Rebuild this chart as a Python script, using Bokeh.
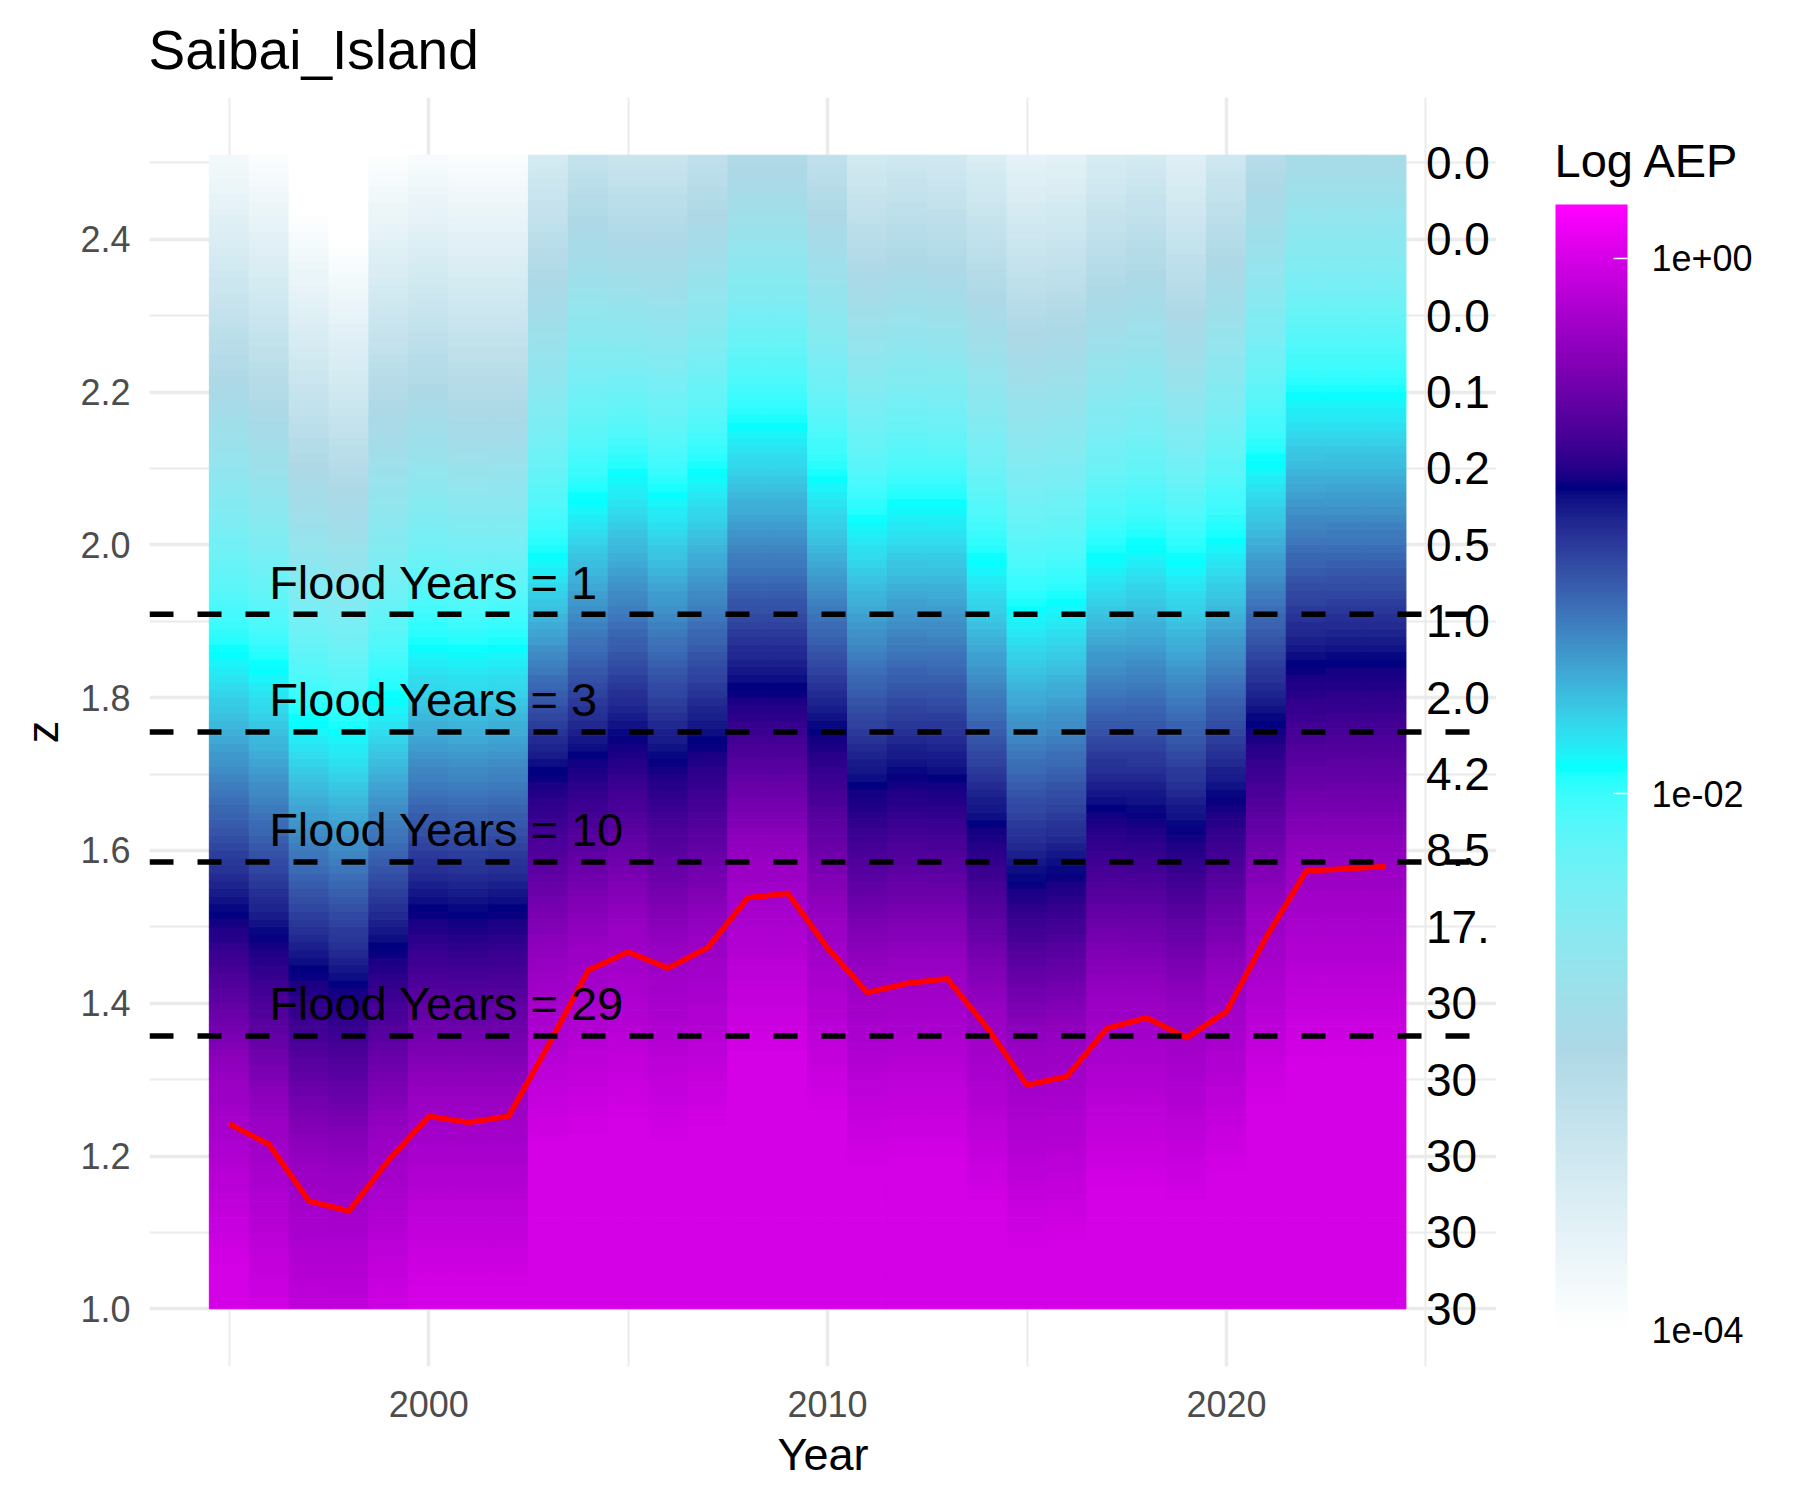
import numpy as np
from bokeh.plotting import figure
from bokeh.layouts import row
from bokeh.models import (ColumnDataSource, Range1d, FixedTicker, NumeralTickFormatter,
                          LinearColorMapper, ColorBar)
from bokeh.transform import transform
from bokeh.core.properties import value
from bokeh.embed import file_html
from bokeh.resources import INLINE

# ---------------- data ----------------
years = list(range(1995, 2025))
annual_max = [1.242, 1.215, 1.141, 1.128, 1.195, 1.252, 1.244, 1.252, 1.345, 1.443,
              1.467, 1.446, 1.473, 1.538, 1.544, 1.472, 1.414, 1.426, 1.432, 1.368,
              1.293, 1.304, 1.367, 1.381, 1.355, 1.389, 1.487, 1.573, 1.576, 1.579]

# heights (z) at which log10(AEP) reaches each contour level, per year
aep_levels = [0.0, -0.3, -0.85, -1.9, -2.95, -4.0]
z_at_0 = [1.05, 0.98, 0.90, 0.90, 0.97, 1.02, 1.02, 1.02, 1.21, 1.22,
          1.24, 1.21, 1.23, 1.33, 1.33, 1.25, 1.18, 1.19, 1.19, 1.13,
          1.07, 1.08, 1.15, 1.15, 1.13, 1.17, 1.26, 1.32, 1.32, 1.32]
z_at_m03 = [1.31, 1.26, 1.20, 1.19, 1.24, 1.29, 1.29, 1.29, 1.46, 1.49,
            1.51, 1.48, 1.50, 1.60, 1.60, 1.52, 1.45, 1.46, 1.46, 1.40,
            1.35, 1.36, 1.42, 1.42, 1.40, 1.44, 1.53, 1.59, 1.59, 1.59]
z_at_m085 = [1.515, 1.486, 1.441, 1.422, 1.471, 1.520, 1.515, 1.520, 1.702, 1.722,
             1.746, 1.717, 1.741, 1.811, 1.811, 1.755, 1.682, 1.697, 1.692, 1.633,
             1.559, 1.569, 1.653, 1.648, 1.628, 1.668, 1.765, 1.840, 1.845, 1.845]
z_at_m19 = [1.860, 1.840, 1.770, 1.756, 1.800, 1.869, 1.864, 1.869, 1.985, 2.060,
            2.092, 2.067, 2.096, 2.159, 2.159, 2.087, 2.034, 2.053, 2.053, 1.980,
            1.917, 1.927, 1.985, 2.000, 1.980, 2.009, 2.110, 2.198, 2.198, 2.198]
z_at_m295 = [2.217, 2.178, 2.100, 2.070, 2.178, 2.203, 2.178, 2.178, 2.348, 2.420,
             2.396, 2.396, 2.430, 2.490, 2.490, 2.430, 2.357, 2.372, 2.360, 2.324,
             2.275, 2.285, 2.333, 2.353, 2.300, 2.372, 2.469, 2.530, 2.530, 2.530]
z_at_m4 = [2.56, 2.53, 2.44, 2.40, 2.52, 2.54, 2.53, 2.53, 2.69, 2.76,
           2.74, 2.74, 2.78, 2.84, 2.84, 2.78, 2.70, 2.72, 2.71, 2.67,
           2.62, 2.63, 2.68, 2.70, 2.65, 2.72, 2.82, 2.88, 2.88, 2.88]

z_cells = [round(1.0 + 0.01 * k, 2) for k in range(151)]   # cell bottoms, 0.01 high

flood_z = [1.909, 1.755, 1.585, 1.357]
flood_text = ["Flood Years = 1", "Flood Years = 3", "Flood Years = 10", "Flood Years = 29"]

right_z = [2.5, 2.4, 2.3, 2.2, 2.1, 2.0, 1.9, 1.8, 1.7, 1.6, 1.5, 1.4, 1.3, 1.2, 1.1, 1.0]
right_text = ["0.0", "0.0", "0.0", "0.1", "0.2", "0.5", "1.0", "2.0", "4.2", "8.5",
              "17.", "30", "30", "30", "30", "30"]

x_major = [2000, 2010, 2020]
x_minor = [1995, 2005, 2015, 2025]
y_major = [1.0, 1.2, 1.4, 1.6, 1.8, 2.0, 2.2, 2.4]
y_minor = [1.1, 1.3, 1.5, 1.7, 1.9, 2.1, 2.3, 2.5]

legend_title = "Log AEP"
legend_ticks = [-4, -2, 0]
legend_labels = ["1e-04", "1e-02", "1e+00"]
aep_low, aep_high = -4.0, 0.2

# ---------------- palette: white-lightblue-cyan-navy-magenta (Lab ramp) ----------------
anchor_hex = ["#FFFFFF", "#ADD8E6", "#00FFFF", "#000080", "#FF00FF"]
M = np.array([[0.4124, 0.3576, 0.1805], [0.2126, 0.7152, 0.0722], [0.0193, 0.1192, 0.9505]])
Minv = np.linalg.inv(M)
WP = np.array([0.95047, 1.0, 1.08883])


def _lin(c):
    c = np.asarray(c, float) / 255.0
    return np.where(c <= 0.04045, c / 12.92, ((c + 0.055) / 1.055) ** 2.4)


def _delin(c):
    c = np.clip(c, 0, 1)
    return np.where(c <= 0.0031308, 12.92 * c, 1.055 * c ** (1 / 2.4) - 0.055)


def hex2lab(h):
    rgb = [int(h[i:i + 2], 16) for i in (1, 3, 5)]
    xyz = (M @ _lin(rgb)) / WP
    f = np.where(xyz > 0.008856, np.cbrt(xyz), 7.787 * xyz + 16 / 116)
    return np.array([116 * f[1] - 16, 500 * (f[0] - f[1]), 200 * (f[1] - f[2])])


def lab2hex(lab):
    L, a, b = lab
    fy = (L + 16) / 116
    f = np.array([fy + a / 500, fy, fy - b / 200])
    xyz = np.where(f ** 3 > 0.008856, f ** 3, (f - 16 / 116) / 7.787) * WP
    rgb = _delin(Minv @ xyz)
    return "#%02x%02x%02x" % tuple(int(round(v * 255)) for v in rgb)


labs = [hex2lab(h) for h in anchor_hex]
palette = []
for k in range(256):
    s = k / 255 * (len(labs) - 1)
    i = min(int(s), len(labs) - 2)
    t = s - i
    palette.append(lab2hex(labs[i] * (1 - t) + labs[i + 1] * t))

mapper = LinearColorMapper(palette=palette, low=aep_low, high=aep_high)

# ---------------- heat-map cells ----------------
zc = np.array(z_cells)
L, R, B, T, V = [], [], [], [], []
for i, yr in enumerate(years):
    xp = [z_at_0[i], z_at_m03[i], z_at_m085[i], z_at_m19[i], z_at_m295[i], z_at_m4[i]]
    v = np.interp(zc + 0.005, xp, aep_levels)
    L += [yr - 0.5] * len(zc)
    R += [yr + 0.5] * len(zc)
    B += list(zc)
    T += list(zc + 0.01)
    V += list(v)
cells = ColumnDataSource(dict(left=L, right=R, bottom=B, top=T, v=V))

FONT = "Liberation Sans"
X0, X1 = 1993.0, 2026.77
PANEL_RIGHT = 2026.52          # right edge of the ggplot panel (end of the dashed lines)
Y0, Y1 = 0.9245, 2.5855
MAIN_W, LEG_W, H = 1496, 304, 1500
TOP, BOTTOM = 97, 134

p = figure(width=MAIN_W, height=H, output_backend="svg", toolbar_location=None,
           x_range=Range1d(X0, X1), y_range=Range1d(Y0, Y1),
           min_border_left=149, min_border_right=0, min_border_top=TOP, min_border_bottom=BOTTOM,
           background_fill_color="white", border_fill_color="white")
p.outline_line_color = None

p.quad(left="left", right="right", bottom="bottom", top="top", source=cells,
       fill_color=transform("v", mapper), line_color=transform("v", mapper), line_width=1)

p.line(years, annual_max, line_color="#FF0000", line_width=5.5, line_join="round")

p.segment(x0=[X0] * len(flood_z), x1=[PANEL_RIGHT] * len(flood_z), y0=flood_z, y1=flood_z,
          line_color="black", line_width=5.5, line_dash="24 24")

p.text(x=[1996] * len(flood_z), y=[z + 0.042 for z in flood_z], text=flood_text,
       text_font=value(FONT), text_font_size="47px", text_align="left",
       text_baseline="middle", text_color="black")

p.text(x=[2025] * len(right_z), y=right_z, text=right_text,
       text_font=value(FONT), text_font_size="46px", text_align="left",
       text_baseline="middle", text_color="black")

# title
p.title.text = "Saibai_Island"
p.title.text_font = FONT
p.title.text_font_size = "55px"
p.title.text_font_style = "normal"
p.title.text_color = "black"
p.title.align = "left"
p.title.standoff = 33
p.title.offset = -1

# axes
xt = FixedTicker(ticks=x_major, minor_ticks=x_minor)
yt = FixedTicker(ticks=y_major, minor_ticks=y_minor)
p.xaxis.ticker = xt
p.yaxis.ticker = yt
p.xgrid.ticker = xt
p.ygrid.ticker = yt
p.yaxis.formatter = NumeralTickFormatter(format="0.0")
for ax in (p.xaxis, p.yaxis):
    ax.axis_line_color = None
    ax.major_tick_line_color = None
    ax.minor_tick_line_color = None
    ax.major_label_text_font = FONT
    ax.major_label_text_font_size = "36px"
    ax.major_label_text_color = "#4D4D4D"
    ax.axis_label_text_font = FONT
    ax.axis_label_text_font_size = "45px"
    ax.axis_label_text_font_style = "normal"
    ax.axis_label_text_color = "black"
p.xaxis.axis_label = "Year"
p.yaxis.axis_label = "z"
p.xaxis.major_label_standoff = 18
p.yaxis.major_label_standoff = 13
p.xaxis.axis_label_standoff = 9
p.yaxis.axis_label_standoff = 9

for g in (p.xgrid, p.ygrid):
    g.grid_line_color = "#EBEBEB"
    g.grid_line_width = 3.5
    g.minor_grid_line_color = "#EBEBEB"
    g.minor_grid_line_width = 2

# ---------------- legend panel (colour bar + its title) ----------------
leg = figure(width=LEG_W, height=H, output_backend="svg", toolbar_location=None,
             x_range=Range1d(0, LEG_W), y_range=Range1d(H - BOTTOM, TOP),
             x_axis_location=None, y_axis_location=None,
             min_border_left=0, min_border_right=0, min_border_top=TOP, min_border_bottom=BOTTOM,
             background_fill_color="white", border_fill_color="white")
leg.outline_line_color = None
leg.xgrid.visible = False
leg.ygrid.visible = False

leg.text(x=[1554 - MAIN_W], y=[160], text=[legend_title], text_font=value(FONT),
         text_font_size="47px", text_color="black", text_align="left",
         text_baseline="alphabetic")

cb = ColorBar(color_mapper=mapper, ticker=FixedTicker(ticks=legend_ticks),
              major_label_overrides=dict(zip(legend_ticks, legend_labels)),
              width=72, height=1125,
              major_label_text_font=FONT, major_label_text_font_size="36px",
              major_label_text_color="black", label_standoff=24,
              major_tick_line_color="white", major_tick_in=14, major_tick_out=0,
              major_tick_line_width=1.5, minor_tick_line_color=None,
              bar_line_color=None, border_line_color=None, background_fill_color=None,
              margin=0, padding=0, location=(1555 - MAIN_W, H - BOTTOM - 1329))
leg.add_layout(cb, "center")

layout = row(p, leg, spacing=0)
open("out.html", "w").write(file_html(layout, INLINE))
